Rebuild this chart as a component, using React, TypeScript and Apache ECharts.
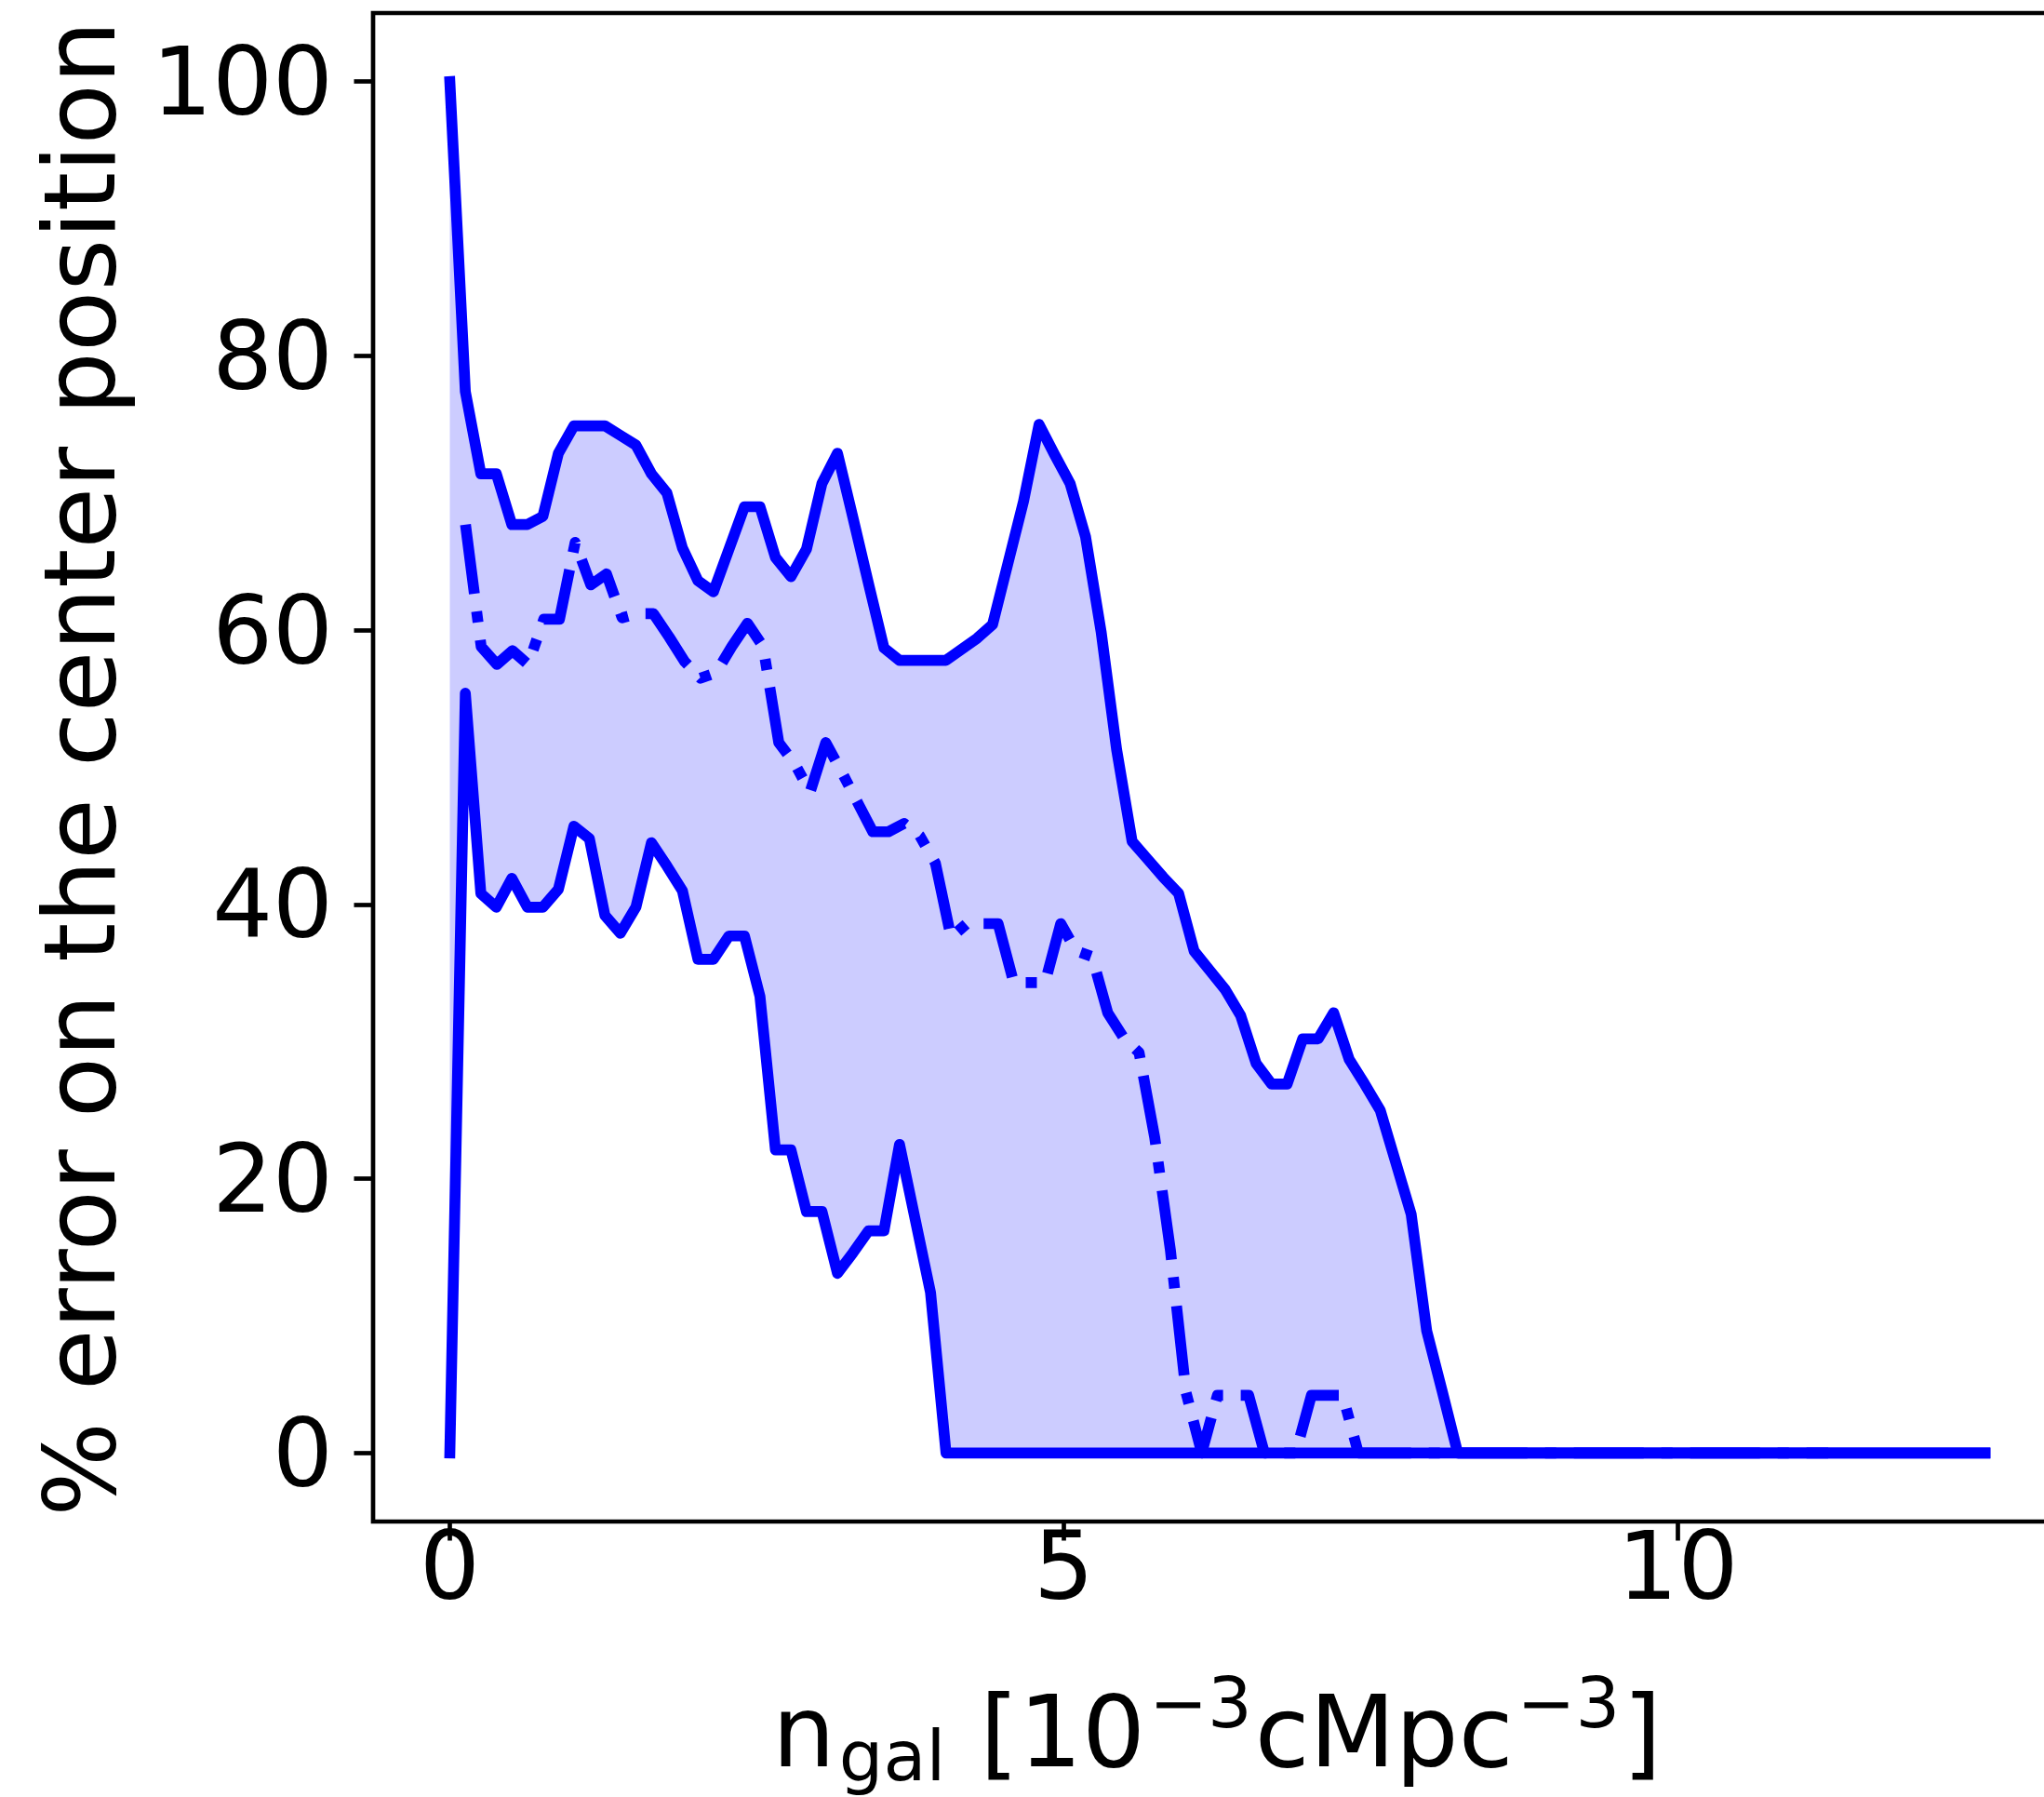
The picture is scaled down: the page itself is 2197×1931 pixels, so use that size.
import React, { useEffect, useRef } from "react";
import * as echarts from "echarts";

const WIDTH = 2197;
const HEIGHT = 1931;

// Galaxy number density sampling, in 10^-3 cMpc^-3
const N_MAX = 12.5;
const BAND_SAMPLES = 100;
const MEDIAN_SAMPLES = 99;

// Upper edge of the error band (%), one value per band sample
const upperError = [
  100, 77.4, 71.4, 71.4, 67.7, 67.7, 68.3, 72.9, 74.9, 74.9,
  74.9, 74.2, 73.5, 71.4, 70.0, 66.0, 63.6, 62.8, 65.9, 69.0,
  69.0, 65.3, 63.9, 65.9, 70.7, 72.9, 68.2, 63.4, 58.7, 57.8,
  57.8, 57.8, 57.8, 58.6, 59.4, 60.4, 64.9, 69.4, 75.0, 72.8,
  70.7, 66.8, 59.9, 51.3, 44.6, 43.3, 42.0, 40.8, 36.6, 35.2,
  33.8, 31.9, 28.4, 26.9, 26.9, 30.2, 30.2, 32.1, 28.7, 26.9,
  25.0, 21.2, 17.4, 8.9, 4.5, 0, 0, 0, 0, 0,
  0, 0, 0, 0, 0, 0, 0, 0, 0, 0,
  0, 0, 0, 0, 0, 0, 0, 0, 0, 0,
  0, 0, 0, 0, 0, 0, 0, 0, 0, 0,
];

// Lower edge of the error band (%)
const lowerError = [
  0, 55.4, 40.8, 39.8, 41.9, 39.8, 39.8, 41.1, 45.7, 44.8,
  39.2, 37.9, 39.8, 44.5, 42.8, 41.0, 36.0, 36.0, 37.7, 37.7,
  33.3, 22.1, 22.1, 17.6, 17.6, 13.1, 14.6, 16.2, 16.2, 22.5,
  17.1, 11.7, 0, 0, 0, 0, 0, 0, 0, 0,
  0, 0, 0, 0, 0, 0, 0, 0, 0, 0,
  0, 0, 0, 0, 0, 0, 0, 0, 0, 0,
  0, 0, 0, 0, 0, 0, 0, 0, 0, 0,
  0, 0, 0, 0, 0, 0, 0, 0, 0, 0,
  0, 0, 0, 0, 0, 0, 0, 0, 0, 0,
  0, 0, 0, 0, 0, 0, 0, 0, 0, 0,
];

// Median error (%), on its own grid; no value at the first sample
const medianError: (number | null)[] = [
  null, 67.7, 58.8, 57.5, 58.5, 57.5, 60.8, 60.8, 66.4, 63.3,
  64.1, 60.9, 61.2, 61.2, 59.5, 57.7, 56.5, 56.9, 58.8, 60.5,
  58.8, 51.8, 50.3, 48.2, 51.8, 49.7, 47.5, 45.3, 45.3, 45.9,
  45.0, 43.0, 37.6, 38.6, 38.6, 38.6, 34.3, 34.3, 34.3, 38.6,
  36.6, 36.2, 32.1, 30.3, 29.2, 23.0, 14.8, 4.4, 0, 4.2,
  4.2, 4.2, 0, 0, 0, 4.2, 4.2, 4.2, 0, 0,
  0, 0, 0, 0, 0, 0, 0, 0, 0, 0,
  0, 0, 0, 0, 0, 0, 0, 0, 0, 0,
  0, 0, 0, 0, 0, 0, 0, 0, 0,
];

const xTickValues = [0, 5, 10];
const yTickValues = [0, 20, 40, 60, 80, 100];

const yAxisTitle = "% error on the center position";
// x-axis title split into baseline / subscript / superscript runs
const xAxisTitleRuns = [
  { text: "n", role: "main" },
  { text: "gal", role: "sub" },
  { text: " [10", role: "main" },
  { text: "\u22123", role: "sup" },
  { text: "cMpc", role: "main" },
  { text: "\u22123", role: "sup" },
  { text: "]", role: "main" },
];

// Styling
const FONT_FAMILY = '"DejaVu Sans", sans-serif';
const TITLE_SIZE = 107;
const SCRIPT_SIZE = 75;
const TICK_FONT_SIZE = 102;
const LINE_WIDTH = 11.7;
const SPINE_WIDTH = 4.7;
const TICK_LENGTH = 20.5;
const BLUE = "#0000ff";
const BAND_FILL = "rgba(0, 0, 255, 0.2)";
const DASH_DOT = [75, 19, 12, 19];

// Plot box in page pixels (the right edge runs past the page)
const PLOT_LEFT = 401;
const PLOT_TOP = 14;
const PLOT_WIDTH = 1815;
const PLOT_HEIGHT = 1621;

const X_MIN = -0.625;
const X_MAX = 13.125;
const Y_MIN = -5;
const Y_MAX = 105;

function sampleGrid(count: number): number[] {
  const out: number[] = [];
  for (let i = 0; i < count; i++) out.push((i * N_MAX) / (count - 1));
  return out;
}

function makeMeasurer() {
  const canvas = document.createElement("canvas");
  const ctx = canvas.getContext("2d")!;
  return (text: string, size: number) => {
    ctx.font = `${size}px ${FONT_FAMILY}`;
    return ctx.measureText(text).width;
  };
}

function buildXTitle(): any[] {
  const measure = makeMeasurer();
  const baseline = 1898;
  const centralOffset = 0.346; // central baseline above alphabetic, in em
  const gaps: Record<string, number> = { main: 0, sub: 4, sup: 4 };
  let x = 830;
  const out: any[] = [];
  xAxisTitleRuns.forEach((run, k) => {
    const size = run.role === "main" ? TITLE_SIZE : SCRIPT_SIZE;
    const shift = run.role === "sub" ? 15 : run.role === "sup" ? -42 : 0;
    if (k > 0) x += gaps[run.role] + (xAxisTitleRuns[k - 1].role !== "main" ? 3 : 0);
    out.push({
      type: "text",
      x,
      y: baseline + shift - centralOffset * size,
      silent: true,
      style: {
        text: run.text,
        fontSize: size,
        fontFamily: FONT_FAMILY,
        fill: "#000",
        textAlign: "left",
        align: "left",
        textVerticalAlign: "middle",
        verticalAlign: "middle",
      },
    });
    x += measure(run.text, size);
  });
  return out;
}

export default function App() {
  const ref = useRef<HTMLDivElement>(null);

  useEffect(() => {
    const el = ref.current;
    if (!el) return;
    const chart = echarts.init(el, null, { renderer: "svg", width: WIDTH, height: HEIGHT });

    const bandX = sampleGrid(BAND_SAMPLES);
    const medianX = sampleGrid(MEDIAN_SAMPLES);

    const upperData = bandX.map((x, i) => [x, upperError[i]]);
    const lowerData = bandX.map((x, i) => [x, lowerError[i]]);
    const medianData = medianX
      .map((x, j) => [x, medianError[j]])
      .filter((p) => p[1] !== null);

    const tickLabel = {
      fontSize: TICK_FONT_SIZE,
      fontFamily: FONT_FAMILY,
      color: "#000",
    };

    const option: any = {
      animation: false,
      backgroundColor: "#ffffff",
      grid: {
        left: PLOT_LEFT,
        top: PLOT_TOP,
        width: PLOT_WIDTH,
        height: PLOT_HEIGHT,
        show: true,
        borderColor: "#000",
        borderWidth: SPINE_WIDTH,
        backgroundColor: "transparent",
        containLabel: false,
        outerBoundsMode: "none",
      },
      xAxis: {
        type: "value",
        min: X_MIN,
        max: X_MAX,
        axisLine: { show: false, onZero: false },
        splitLine: { show: false },
        axisTick: {
          show: true,
          inside: false,
          length: TICK_LENGTH,
          lineStyle: { color: "#000", width: SPINE_WIDTH },
          customValues: xTickValues,
        },
        axisLabel: {
          ...tickLabel,
          margin: -4,
          lineHeight: TICK_FONT_SIZE,
          customValues: xTickValues,
        },
      },
      yAxis: {
        type: "value",
        min: Y_MIN,
        max: Y_MAX,
        axisLine: { show: false, onZero: false },
        splitLine: { show: false },
        axisTick: {
          show: true,
          inside: false,
          length: TICK_LENGTH,
          lineStyle: { color: "#000", width: SPINE_WIDTH },
          customValues: yTickValues,
        },
        axisLabel: {
          ...tickLabel,
          margin: 43,
          customValues: yTickValues,
        },
      },
      series: [
        {
          type: "custom",
          name: "band",
          silent: true,
          z: 1,
          data: [[0, 0]],
          renderItem: (_params: any, api: any) => {
            const pts: number[][] = [];
            for (let i = 0; i < bandX.length; i++) pts.push(api.coord([bandX[i], upperError[i]]));
            for (let i = bandX.length - 1; i >= 0; i--) pts.push(api.coord([bandX[i], lowerError[i]]));
            return {
              type: "polygon",
              shape: { points: pts },
              style: { fill: BAND_FILL, stroke: "none" },
            };
          },
        },
        {
          type: "line",
          name: "upper",
          data: upperData,
          symbol: "none",
          showSymbol: false,
          z: 3,
          lineStyle: { color: BLUE, width: LINE_WIDTH, cap: "square", join: "round" },
        },
        {
          type: "line",
          name: "lower",
          data: lowerData,
          symbol: "none",
          showSymbol: false,
          z: 3,
          lineStyle: { color: BLUE, width: LINE_WIDTH, cap: "square", join: "round" },
        },
        {
          type: "line",
          name: "median",
          data: medianData,
          symbol: "none",
          showSymbol: false,
          z: 4,
          lineStyle: { color: BLUE, width: LINE_WIDTH, type: DASH_DOT, cap: "butt", join: "round" },
        },
      ],
      graphic: [
        {
          type: "text",
          x: 86,
          y: 826,
          rotation: Math.PI / 2,
          silent: true,
          style: {
            text: yAxisTitle,
            fontSize: TITLE_SIZE,
            fontFamily: FONT_FAMILY,
            fill: "#000",
            textAlign: "center",
            align: "center",
            textVerticalAlign: "middle",
            verticalAlign: "middle",
          },
        },
        ...buildXTitle(),
      ],
    };

    chart.setOption(option);
    return () => {
      chart.dispose();
    };
  }, []);

  return (
    <div
      ref={ref}
      style={{ position: "absolute", left: 0, top: 0, width: WIDTH, height: HEIGHT, background: "#fff" }}
    />
  );
}
